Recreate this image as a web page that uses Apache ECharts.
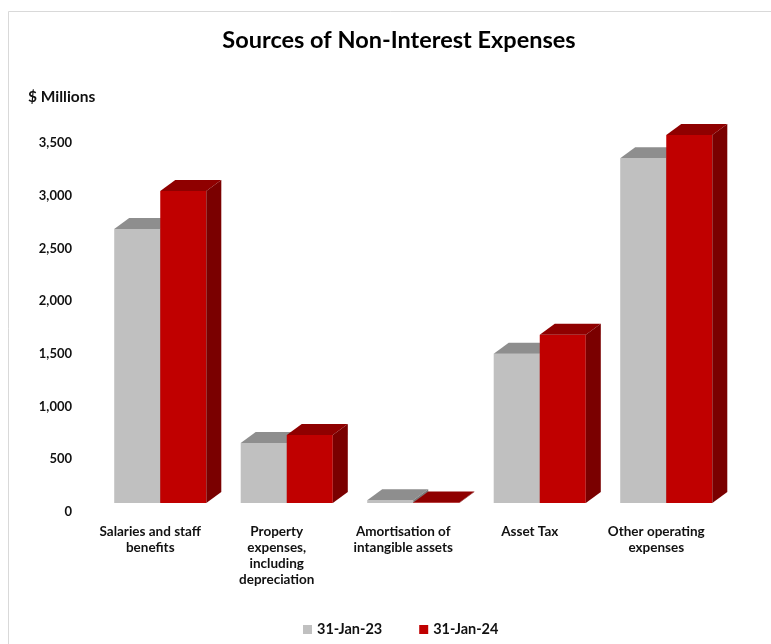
<!DOCTYPE html>
<html>
<head>
<meta charset="utf-8">
<script src="https://cdn.jsdelivr.net/npm/echarts@6/dist/echarts.min.js"></script>
<style>
  html, body { margin: 0; padding: 0; background: #ffffff; }
  #chart { width: 771px; height: 644px; }
</style>
</head>
<body>
<div id="chart"></div>
<script>
// ---- Data ----
const categories = [
  'Salaries and staff\nbenefits',
  'Property\nexpenses,\nincluding\ndepreciation',
  'Amortisation of\nintangible assets',
  'Asset Tax',
  'Other operating\nexpenses'
];
const seriesNames = ['31-Jan-23', '31-Jan-24'];
const values2023 = [2600, 570, 25, 1415, 3270];
const values2024 = [2960, 645, 5, 1595, 3490];
const yTicks = [0, 500, 1000, 1500, 2000, 2500, 3000, 3500];

// ---- Styles ----
const faces = [
  { front: '#c0c0c0', top: '#8e8e8e', side: '#7a7a7a' },
  { front: '#c00000', top: '#8f0000', side: '#7a0000' }
];
const SHIFT = [10, -9];   // front plane of bars vs axis plane (px)
const DEPTH = [15, -11];  // bar depth projection (px)

function makeRender(si) {
  return function (params, api) {
    const idx = api.value(0);
    const v = api.value(1);
    const base = api.coord([idx, 0]);
    const top = api.coord([idx, v]);
    const band = api.size([1, 0])[0];
    const w = band * 0.364;
    const cx = base[0] + SHIFT[0];
    const x0 = si === 0 ? cx - w : cx;
    const x1 = x0 + w;
    const yb = base[1] + SHIFT[1];
    const yt = Math.min(top[1] + SHIFT[1], yb - 0.5);
    const f = faces[si];
    return {
      type: 'group',
      children: [
        { type: 'rect', shape: { x: x0, y: yt, width: w, height: yb - yt },
          style: { fill: f.front } },
        { type: 'polygon', shape: { points: [[x0, yt], [x1, yt], [x1 + DEPTH[0], yt + DEPTH[1]], [x0 + DEPTH[0], yt + DEPTH[1]]] },
          style: { fill: f.top } },
        { type: 'polygon', shape: { points: [[x1, yt], [x1, yb], [x1 + DEPTH[0], yb + DEPTH[1]], [x1 + DEPTH[0], yt + DEPTH[1]]] },
          style: { fill: f.side } }
      ]
    };
  };
}

const chart = echarts.init(document.getElementById('chart'), null, { renderer: 'canvas' });
const textColor = '#111111';
const fontFam = 'Lato, "Open Sans", sans-serif';

chart.setOption({
  animation: false,
  backgroundColor: '#ffffff',
  title: [
    { text: 'Sources of Non-Interest Expenses', left: 394, top: 23, textAlign: 'center',
      textStyle: { fontFamily: fontFam, fontSize: 23.5, fontWeight: 'bold', color: '#000' } },
    { text: '$ Millions', left: 23, top: 84,
      textStyle: { fontFamily: fontFam, fontSize: 15.5, fontWeight: 'bold', color: textColor } }
  ],
  graphic: [
    { type: 'rect', left: 6, top: 9, z: -1,
      shape: { width: 820, height: 700 },
      style: { fill: 'none', stroke: '#d9d9d9', lineWidth: 1 } }
  ],
  legend: {
    left: 298, top: 617,
    itemWidth: 9, itemHeight: 9, itemGap: 37,
    icon: 'rect',
    textStyle: { fontFamily: fontFam, fontSize: 14.5, fontWeight: 'bold', color: textColor },
    data: seriesNames
  },
  grid: { left: 87, right: 51.5, top: 143, bottom: 132, containLabel: false },
  xAxis: {
    type: 'category',
    data: categories,
    axisLine: { show: false },
    axisTick: { show: false },
    axisLabel: { interval: 0, margin: 12, lineHeight: 16, fontFamily: fontFam, fontSize: 13.5, fontWeight: 'bold', color: textColor }
  },
  yAxis: {
    type: 'value',
    min: yTicks[0], max: yTicks[yTicks.length - 1], interval: 500,
    axisLine: { show: false },
    axisTick: { show: false },
    splitLine: { show: false },
    axisLabel: {
      margin: 15, fontFamily: fontFam, fontSize: 13, fontWeight: 'bold', color: textColor,
      formatter: function (v) { return v.toLocaleString('en-US'); }
    }
  },
  series: [
    { name: seriesNames[0], type: 'custom', renderItem: makeRender(0),
      itemStyle: { color: faces[0].front },
      encode: { x: 0, y: 1 },
      data: values2023.map((v, i) => [i, v]) },
    { name: seriesNames[1], type: 'custom', renderItem: makeRender(1),
      itemStyle: { color: faces[1].front },
      encode: { x: 0, y: 1 },
      data: values2024.map((v, i) => [i, v]) }
  ]
});
</script>
</body>
</html>
